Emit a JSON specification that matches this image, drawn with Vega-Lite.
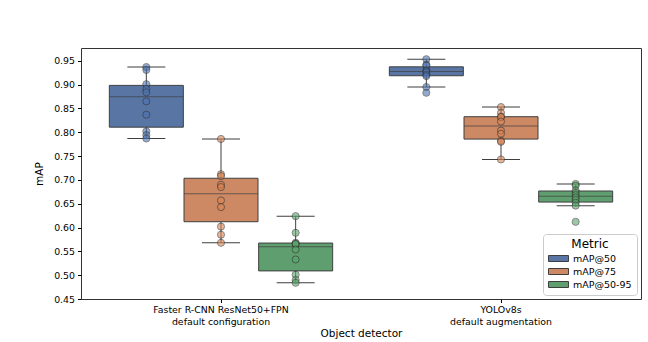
{
  "$schema": "https://vega.github.io/schema/vega-lite/v6.json",
  "autosize": "none",
  "width": 560,
  "height": 251,
  "padding": {"left": 81, "top": 48, "right": 7, "bottom": 43},
  "background": "white",
  "config": {
    "font": "DejaVu Sans",
    "view": {"stroke": "#333333", "strokeWidth": 1},
    "axis": {"grid": false, "domain": false, "labelFont": "DejaVu Sans", "titleFont": "DejaVu Sans", "labelColor": "#000000", "titleColor": "#000000", "tickColor": "#000000", "tickSize": 3.5, "labelFontSize": 9.4, "titleFontSize": 10.5, "titleFontWeight": "normal"}
  },
  "data": {
    "values": [
      {"detector": "Faster R-CNN ResNet50+FPN\ndefault configuration", "metric": "mAP@50", "value": 0.937},
      {"detector": "Faster R-CNN ResNet50+FPN\ndefault configuration", "metric": "mAP@50", "value": 0.931},
      {"detector": "Faster R-CNN ResNet50+FPN\ndefault configuration", "metric": "mAP@50", "value": 0.901},
      {"detector": "Faster R-CNN ResNet50+FPN\ndefault configuration", "metric": "mAP@50", "value": 0.891},
      {"detector": "Faster R-CNN ResNet50+FPN\ndefault configuration", "metric": "mAP@50", "value": 0.884},
      {"detector": "Faster R-CNN ResNet50+FPN\ndefault configuration", "metric": "mAP@50", "value": 0.865},
      {"detector": "Faster R-CNN ResNet50+FPN\ndefault configuration", "metric": "mAP@50", "value": 0.837},
      {"detector": "Faster R-CNN ResNet50+FPN\ndefault configuration", "metric": "mAP@50", "value": 0.802},
      {"detector": "Faster R-CNN ResNet50+FPN\ndefault configuration", "metric": "mAP@50", "value": 0.794},
      {"detector": "Faster R-CNN ResNet50+FPN\ndefault configuration", "metric": "mAP@50", "value": 0.787},
      {"detector": "Faster R-CNN ResNet50+FPN\ndefault configuration", "metric": "mAP@75", "value": 0.786},
      {"detector": "Faster R-CNN ResNet50+FPN\ndefault configuration", "metric": "mAP@75", "value": 0.712},
      {"detector": "Faster R-CNN ResNet50+FPN\ndefault configuration", "metric": "mAP@75", "value": 0.708},
      {"detector": "Faster R-CNN ResNet50+FPN\ndefault configuration", "metric": "mAP@75", "value": 0.690},
      {"detector": "Faster R-CNN ResNet50+FPN\ndefault configuration", "metric": "mAP@75", "value": 0.685},
      {"detector": "Faster R-CNN ResNet50+FPN\ndefault configuration", "metric": "mAP@75", "value": 0.657},
      {"detector": "Faster R-CNN ResNet50+FPN\ndefault configuration", "metric": "mAP@75", "value": 0.643},
      {"detector": "Faster R-CNN ResNet50+FPN\ndefault configuration", "metric": "mAP@75", "value": 0.602},
      {"detector": "Faster R-CNN ResNet50+FPN\ndefault configuration", "metric": "mAP@75", "value": 0.585},
      {"detector": "Faster R-CNN ResNet50+FPN\ndefault configuration", "metric": "mAP@75", "value": 0.568},
      {"detector": "Faster R-CNN ResNet50+FPN\ndefault configuration", "metric": "mAP@50-95", "value": 0.624},
      {"detector": "Faster R-CNN ResNet50+FPN\ndefault configuration", "metric": "mAP@50-95", "value": 0.589},
      {"detector": "Faster R-CNN ResNet50+FPN\ndefault configuration", "metric": "mAP@50-95", "value": 0.568},
      {"detector": "Faster R-CNN ResNet50+FPN\ndefault configuration", "metric": "mAP@50-95", "value": 0.566},
      {"detector": "Faster R-CNN ResNet50+FPN\ndefault configuration", "metric": "mAP@50-95", "value": 0.565},
      {"detector": "Faster R-CNN ResNet50+FPN\ndefault configuration", "metric": "mAP@50-95", "value": 0.554},
      {"detector": "Faster R-CNN ResNet50+FPN\ndefault configuration", "metric": "mAP@50-95", "value": 0.533},
      {"detector": "Faster R-CNN ResNet50+FPN\ndefault configuration", "metric": "mAP@50-95", "value": 0.501},
      {"detector": "Faster R-CNN ResNet50+FPN\ndefault configuration", "metric": "mAP@50-95", "value": 0.490},
      {"detector": "Faster R-CNN ResNet50+FPN\ndefault configuration", "metric": "mAP@50-95", "value": 0.484},
      {"detector": "YOLOv8s\ndefault augmentation", "metric": "mAP@50", "value": 0.9535},
      {"detector": "YOLOv8s\ndefault augmentation", "metric": "mAP@50", "value": 0.942},
      {"detector": "YOLOv8s\ndefault augmentation", "metric": "mAP@50", "value": 0.940},
      {"detector": "YOLOv8s\ndefault augmentation", "metric": "mAP@50", "value": 0.930},
      {"detector": "YOLOv8s\ndefault augmentation", "metric": "mAP@50", "value": 0.929},
      {"detector": "YOLOv8s\ndefault augmentation", "metric": "mAP@50", "value": 0.926},
      {"detector": "YOLOv8s\ndefault augmentation", "metric": "mAP@50", "value": 0.921},
      {"detector": "YOLOv8s\ndefault augmentation", "metric": "mAP@50", "value": 0.918},
      {"detector": "YOLOv8s\ndefault augmentation", "metric": "mAP@50", "value": 0.895},
      {"detector": "YOLOv8s\ndefault augmentation", "metric": "mAP@50", "value": 0.883},
      {"detector": "YOLOv8s\ndefault augmentation", "metric": "mAP@75", "value": 0.853},
      {"detector": "YOLOv8s\ndefault augmentation", "metric": "mAP@75", "value": 0.841},
      {"detector": "YOLOv8s\ndefault augmentation", "metric": "mAP@75", "value": 0.833},
      {"detector": "YOLOv8s\ndefault augmentation", "metric": "mAP@75", "value": 0.832},
      {"detector": "YOLOv8s\ndefault augmentation", "metric": "mAP@75", "value": 0.8225},
      {"detector": "YOLOv8s\ndefault augmentation", "metric": "mAP@75", "value": 0.8036},
      {"detector": "YOLOv8s\ndefault augmentation", "metric": "mAP@75", "value": 0.797},
      {"detector": "YOLOv8s\ndefault augmentation", "metric": "mAP@75", "value": 0.782},
      {"detector": "YOLOv8s\ndefault augmentation", "metric": "mAP@75", "value": 0.780},
      {"detector": "YOLOv8s\ndefault augmentation", "metric": "mAP@75", "value": 0.743},
      {"detector": "YOLOv8s\ndefault augmentation", "metric": "mAP@50-95", "value": 0.6916},
      {"detector": "YOLOv8s\ndefault augmentation", "metric": "mAP@50-95", "value": 0.688},
      {"detector": "YOLOv8s\ndefault augmentation", "metric": "mAP@50-95", "value": 0.678},
      {"detector": "YOLOv8s\ndefault augmentation", "metric": "mAP@50-95", "value": 0.673},
      {"detector": "YOLOv8s\ndefault augmentation", "metric": "mAP@50-95", "value": 0.668},
      {"detector": "YOLOv8s\ndefault augmentation", "metric": "mAP@50-95", "value": 0.663},
      {"detector": "YOLOv8s\ndefault augmentation", "metric": "mAP@50-95", "value": 0.658},
      {"detector": "YOLOv8s\ndefault augmentation", "metric": "mAP@50-95", "value": 0.652},
      {"detector": "YOLOv8s\ndefault augmentation", "metric": "mAP@50-95", "value": 0.646},
      {"detector": "YOLOv8s\ndefault augmentation", "metric": "mAP@50-95", "value": 0.612}
    ]
  },
  "encoding": {
    "x": {
      "field": "detector", "type": "nominal", "sort": null,
      "scale": {"paddingInner": 0.2, "paddingOuter": 0.1},
      "axis": {"title": "Object detector", "labelAngle": 0, "labelExpr": "split(datum.label, '\\n')", "labelLineHeight": 11.5, "labelPadding": 3, "titlePadding": 3}
    },
    "xOffset": {"field": "metric", "type": "nominal", "sort": ["mAP@50", "mAP@75", "mAP@50-95"]},
    "y": {
      "field": "value", "type": "quantitative",
      "scale": {"domain": [0.45, 0.977], "nice": false, "zero": false},
      "axis": {"title": "mAP", "values": [0.45, 0.5, 0.55, 0.6, 0.65, 0.7, 0.75, 0.8, 0.85, 0.9, 0.95], "format": ".2f", "labelPadding": 3, "titlePadding": 9}
    }
  },
  "layer": [
    {
      "mark": {
        "type": "boxplot", "extent": 1.5, "outliers": false, "size": 74,
        "box": {"stroke": "#3f3f3f", "strokeWidth": 1},
        "median": {"color": "#3f3f3f", "strokeWidth": 1.2},
        "rule": {"color": "#3f3f3f", "strokeWidth": 1},
        "ticks": {"color": "#3f3f3f", "size": 38, "strokeWidth": 1}
      },
      "encoding": {
        "color": {
          "field": "metric", "type": "nominal", "sort": ["mAP@50", "mAP@75", "mAP@50-95"],
          "scale": {"domain": ["mAP@50", "mAP@75", "mAP@50-95"], "range": ["#5875A4", "#CC8963", "#5F9E6E"]},
          "legend": {
            "title": "Metric", "orient": "bottom-right", "offset": 4,
            "fillColor": "white", "strokeColor": "#cccccc", "cornerRadius": 3, "padding": 5,
            "titleFontSize": 12, "titleFontWeight": "normal", "titleAnchor": "middle", "titleColor": "#000000", "titlePadding": 2,
            "labelFontSize": 9.5, "labelColor": "#000000", "labelOffset": 14, "rowPadding": 2,
            "symbolType": "M-1,-0.6H3V0.6H-1Z", "symbolSize": 100, "symbolStrokeColor": "#3f3f3f", "symbolStrokeWidth": 1, "symbolOpacity": 1
          }
        }
      }
    },
    {
      "mark": {"type": "point", "filled": true, "size": 50, "opacity": 0.6, "stroke": "#333333", "strokeWidth": 1},
      "encoding": {
        "fill": {
          "field": "metric", "type": "nominal",
          "scale": {"domain": ["mAP@50", "mAP@75", "mAP@50-95"], "range": ["#4C72B0", "#DD8452", "#55A868"]},
          "legend": null
        }
      }
    }
  ],
  "resolve": {"scale": {"color": "independent", "fill": "independent"}}
}
